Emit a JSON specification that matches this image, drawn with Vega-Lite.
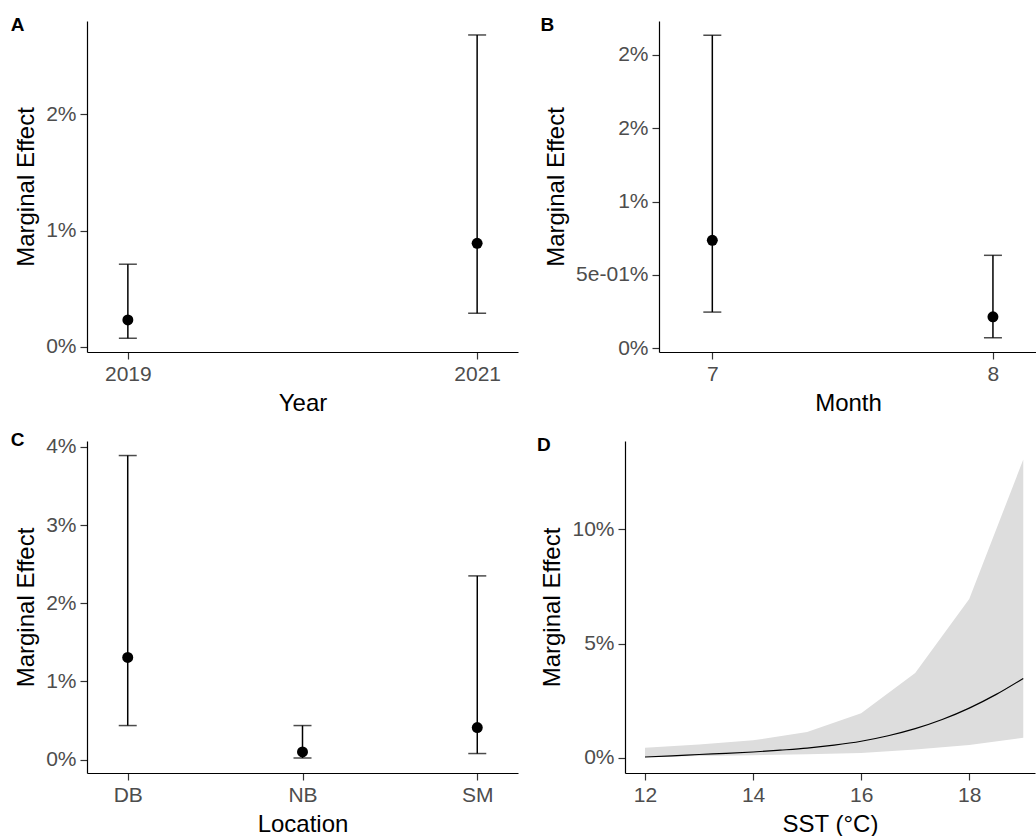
{
  "$schema": "https://vega.github.io/schema/vega-lite/v6.json",
  "background": "white",
  "padding": {"left": 10, "top": 16, "right": 0, "bottom": 0},
  "datasets": {
    "year": [
      {"Year": "2019", "estimate": 0.00232, "lower": 0.00075, "upper": 0.00711},
      {"Year": "2021", "estimate": 0.00891, "lower": 0.0029, "upper": 0.0268}
    ],
    "month": [
      {"Month": 7, "estimate": 0.00736, "lower": 0.00247, "upper": 0.02134},
      {"Month": 8, "estimate": 0.00215, "lower": 0.00072, "upper": 0.00634}
    ],
    "location": [
      {"Location": "DB", "estimate": 0.01306, "lower": 0.00435, "upper": 0.0389},
      {"Location": "NB", "estimate": 0.00097, "lower": 0.0002, "upper": 0.00435},
      {"Location": "SM", "estimate": 0.0041, "lower": 0.00077, "upper": 0.0235}
    ],
    "sst_band": [
      {"SST": 12, "lower": 0.0003, "upper": 0.0044},
      {"SST": 13, "lower": 0.0008, "upper": 0.0059},
      {"SST": 14, "lower": 0.0012, "upper": 0.0077},
      {"SST": 15, "lower": 0.0016, "upper": 0.0113},
      {"SST": 16, "lower": 0.0022, "upper": 0.0196},
      {"SST": 17, "lower": 0.0037, "upper": 0.0372},
      {"SST": 18, "lower": 0.0057, "upper": 0.0695},
      {"SST": 19, "lower": 0.0088, "upper": 0.1306}
    ],
    "sst_fit": [
      {"SST": 12, "estimate": 0.0004},
      {"SST": 12.5, "estimate": 0.0009},
      {"SST": 13, "estimate": 0.0015},
      {"SST": 13.5, "estimate": 0.002},
      {"SST": 14, "estimate": 0.0026},
      {"SST": 14.5, "estimate": 0.0034},
      {"SST": 15, "estimate": 0.0043},
      {"SST": 15.5, "estimate": 0.0056},
      {"SST": 16, "estimate": 0.0073},
      {"SST": 16.5, "estimate": 0.0097},
      {"SST": 17, "estimate": 0.0128},
      {"SST": 17.5, "estimate": 0.0168},
      {"SST": 18, "estimate": 0.0218},
      {"SST": 18.5, "estimate": 0.0278},
      {"SST": 19, "estimate": 0.0348}
    ]
  },
  "config": {
    "font": "Liberation Sans",
    "view": {"stroke": null},
    "axis": {
      "grid": false,
      "domainColor": "black",
      "domainWidth": 1.2,
      "tickColor": "#333333",
      "tickWidth": 1.2,
      "tickSize": 7,
      "labelFontSize": 21,
      "labelColor": "#4D4D4D",
      "labelPadding": 4,
      "titleFontSize": 24,
      "titleFontWeight": "normal",
      "titleColor": "black",
      "titlePadding": 7
    },
    "axisX": {"labelAngle": 0},
    "title": {
      "anchor": "start",
      "frame": "bounds",
      "orient": "top",
      "offset": 0,
      "dy": 18,
      "dx": -4,
      "baseline": "alphabetic",
      "fontSize": 19,
      "fontWeight": "bold",
      "color": "black"
    }
  },
  "vconcat": [
    {
      "hconcat": [
        {
          "title": "A",
          "width": 431,
          "height": 331,
          "data": {"name": "year"},
          "encoding": {
            "x": {"field": "Year", "type": "ordinal", "scale": {"type": "point", "padding": 0.117}, "axis": {"title": "Year"}}
          },
          "layer": [
            {
              "mark": {"type": "rule", "color": "black", "strokeWidth": 1.5},
              "encoding": {
                "y": {"field": "lower", "type": "quantitative", "scale": {"domain": [-0.00043, 0.028], "nice": false, "zero": false}, "axis": {"title": "Marginal Effect", "values": [0, 0.01, 0.02], "format": ".0%"}},
                "y2": {"field": "upper"}
              }
            },
            {
              "mark": {"type": "tick", "orient": "horizontal", "size": 18, "thickness": 1.5, "color": "black"},
              "encoding": {"y": {"field": "upper", "type": "quantitative"}}
            },
            {
              "mark": {"type": "tick", "orient": "horizontal", "size": 18, "thickness": 1.5, "color": "black"},
              "encoding": {"y": {"field": "lower", "type": "quantitative"}}
            },
            {
              "mark": {"type": "point", "filled": true, "size": 120, "color": "black", "opacity": 1},
              "encoding": {"y": {"field": "estimate", "type": "quantitative"}}
            }
          ]
        },
        {
          "title": "B",
          "width": 378,
          "height": 331,
          "data": {"name": "month"},
          "encoding": {
            "x": {"field": "Month", "type": "quantitative", "scale": {"domain": [6.81, 8.157], "nice": false, "zero": false}, "axis": {"title": "Month", "values": [7, 8], "format": "d"}}
          },
          "layer": [
            {
              "mark": {"type": "rule", "color": "black", "strokeWidth": 1.5},
              "encoding": {
                "y": {"field": "lower", "type": "quantitative", "scale": {"domain": [-0.00025, 0.02231], "nice": false, "zero": false}, "axis": {"title": "Marginal Effect", "values": [0, 0.005, 0.01, 0.015, 0.02], "labelExpr": "datum.value < 0.003 ? '0%' : datum.value < 0.007 ? '5e-01%' : datum.value < 0.012 ? '1%' : '2%'"}},
                "y2": {"field": "upper"}
              }
            },
            {
              "mark": {"type": "tick", "orient": "horizontal", "size": 18, "thickness": 1.5, "color": "black"},
              "encoding": {"y": {"field": "upper", "type": "quantitative"}}
            },
            {
              "mark": {"type": "tick", "orient": "horizontal", "size": 18, "thickness": 1.5, "color": "black"},
              "encoding": {"y": {"field": "lower", "type": "quantitative"}}
            },
            {
              "mark": {"type": "point", "filled": true, "size": 120, "color": "black", "opacity": 1},
              "encoding": {"y": {"field": "estimate", "type": "quantitative"}}
            }
          ]
        }
      ],
      "spacing": 22
    },
    {
      "hconcat": [
        {
          "title": "C",
          "width": 431,
          "height": 332,
          "data": {"name": "location"},
          "encoding": {
            "x": {"field": "Location", "type": "nominal", "scale": {"type": "point", "padding": 0.233}, "axis": {"title": "Location"}}
          },
          "layer": [
            {
              "mark": {"type": "rule", "color": "black", "strokeWidth": 1.5},
              "encoding": {
                "y": {"field": "lower", "type": "quantitative", "scale": {"domain": [-0.00172, 0.04076], "nice": false, "zero": false}, "axis": {"title": "Marginal Effect", "values": [0, 0.01, 0.02, 0.03, 0.04], "format": ".0%"}},
                "y2": {"field": "upper"}
              }
            },
            {
              "mark": {"type": "tick", "orient": "horizontal", "size": 18, "thickness": 1.5, "color": "black"},
              "encoding": {"y": {"field": "upper", "type": "quantitative"}}
            },
            {
              "mark": {"type": "tick", "orient": "horizontal", "size": 18, "thickness": 1.5, "color": "black"},
              "encoding": {"y": {"field": "lower", "type": "quantitative"}}
            },
            {
              "mark": {"type": "point", "filled": true, "size": 120, "color": "black", "opacity": 1},
              "encoding": {"y": {"field": "estimate", "type": "quantitative"}}
            }
          ]
        },
        {
          "title": "D",
          "width": 410,
          "height": 332,
          "layer": [
            {
              "data": {"name": "sst_band"},
              "mark": {"type": "area", "color": "#DDDDDD", "opacity": 1},
              "encoding": {
                "x": {"field": "SST", "type": "quantitative", "scale": {"domain": [11.63, 19.217], "nice": false, "zero": false}, "axis": {"title": "SST (°C)", "values": [12, 14, 16, 18], "format": "d"}},
                "y": {"field": "lower", "type": "quantitative", "scale": {"domain": [-0.0066, 0.1387], "nice": false, "zero": false}, "axis": {"title": "Marginal Effect", "values": [0, 0.05, 0.1], "format": ".0%"}},
                "y2": {"field": "upper"}
              }
            },
            {
              "data": {"name": "sst_fit"},
              "mark": {"type": "line", "color": "black", "strokeWidth": 1.2, "interpolate": "monotone"},
              "encoding": {
                "x": {"field": "SST", "type": "quantitative"},
                "y": {"field": "estimate", "type": "quantitative"}
              }
            }
          ]
        }
      ],
      "spacing": 18
    }
  ],
  "spacing": 15
}
